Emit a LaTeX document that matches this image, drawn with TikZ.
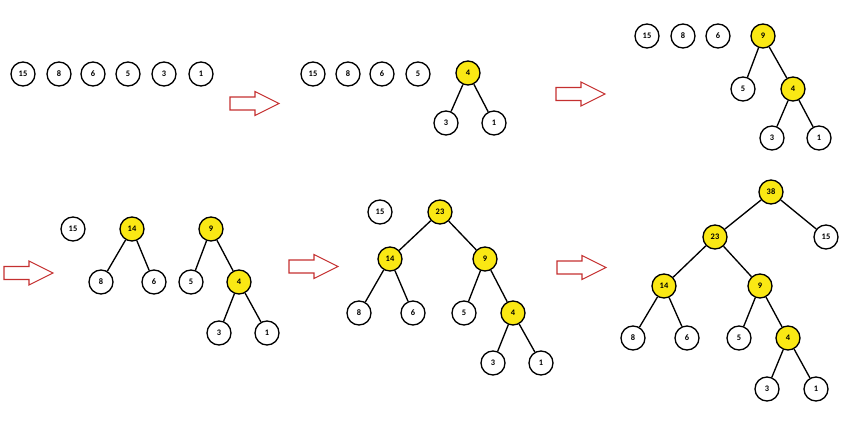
\documentclass[tikz,border=0pt]{standalone}
\usepackage{fontspec}
\setsansfont{Carlito}
\definecolor{nodeyellow}{RGB}{250,232,20}
\definecolor{arrowred}{RGB}{196,48,48}

\begin{document}
\begin{tikzpicture}[x=0.025cm,y=-0.025cm,line width=0.95pt,
  plain/.style={circle,draw,minimum size=0.6cm,inner sep=0pt,font=\sffamily\bfseries\fontsize{6}{7}\selectfont},
  merged/.style={plain,fill=nodeyellow},
  bigarrow/.style={draw=arrowred,line width=0.75pt}]
\useasboundingbox (0,0) rectangle (845,426);

% hollow arrows between the steps
\foreach \x/\y in {230/103.5, 556/94, 4/273, 289/266.5, 557/267.5}
  \draw[bigarrow] (\x,\y-6.5) -- ++(25,0) -- ++(0,-5.5) -- ++(24,12) -- ++(-24,12) -- ++(0,-5.5) -- ++(-25,0) -- cycle;

\begin{scope}
\node[plain](n15) at (23,74){15};
\node[plain](n8) at (59,74){8};
\node[plain](n6) at (93,74){6};
\node[plain](n5) at (128,74){5};
\node[plain](n3) at (164,74){3};
\node[plain](n1) at (201,74){1};
\end{scope}

\begin{scope}
\node[plain](n15) at (313,74){15};
\node[plain](n8) at (348,74){8};
\node[plain](n6) at (382,74){6};
\node[plain](n5) at (418,74){5};
\node[merged](n4) at (468,73){4};
\node[plain](n3) at (446,123){3};
\node[plain](n1) at (494,123){1};
\draw(n4)--(n3);
\draw(n4)--(n1);
\end{scope}

\begin{scope}
\node[plain](n15) at (647,36){15};
\node[plain](n8) at (683,36){8};
\node[plain](n6) at (718,36){6};
\node[merged](n9) at (763,36){9};
\node[plain](n5) at (743,89){5};
\node[merged](n4) at (793,89){4};
\node[plain](n3) at (772,138){3};
\node[plain](n1) at (819,138){1};
\draw(n9)--(n5);
\draw(n9)--(n4);
\draw(n4)--(n3);
\draw(n4)--(n1);
\end{scope}

\begin{scope}
\node[plain](n15) at (73,229){15};
\node[merged](n14) at (132,229){14};
\node[merged](n9) at (211,229){9};
\node[plain](n8) at (101,282){8};
\node[plain](n6) at (154,282){6};
\node[plain](n5) at (191,282){5};
\node[merged](n4) at (239,282){4};
\node[plain](n3) at (219,333){3};
\node[plain](n1) at (267,333){1};
\draw(n14)--(n8);
\draw(n14)--(n6);
\draw(n9)--(n5);
\draw(n9)--(n4);
\draw(n4)--(n3);
\draw(n4)--(n1);
\end{scope}

\begin{scope}
\node[plain](n15) at (380,212){15};
\node[merged](n23) at (440,212){23};
\node[merged](n14) at (390,259){14};
\node[merged](n9) at (485,259){9};
\node[plain](n8) at (359,313){8};
\node[plain](n6) at (413,313){6};
\node[plain](n5) at (464,313){5};
\node[merged](n4) at (513,313){4};
\node[plain](n3) at (493,363){3};
\node[plain](n1) at (541,363){1};
\draw(n23)--(n14);
\draw(n23)--(n9);
\draw(n14)--(n8);
\draw(n14)--(n6);
\draw(n9)--(n5);
\draw(n9)--(n4);
\draw(n4)--(n3);
\draw(n4)--(n1);
\end{scope}

\begin{scope}
\node[merged](n38) at (771,192){38};
\node[plain](n15) at (826,237){15};
\node[merged](n23) at (715,237){23};
\node[merged](n14) at (664,286){14};
\node[merged](n9) at (760,286){9};
\node[plain](n8) at (633,338){8};
\node[plain](n6) at (687,338){6};
\node[plain](n5) at (739,338){5};
\node[merged](n4) at (788,338){4};
\node[plain](n3) at (767,389){3};
\node[plain](n1) at (816,389){1};
\draw(n38)--(n23);
\draw(n38)--(n15);
\draw(n23)--(n14);
\draw(n23)--(n9);
\draw(n14)--(n8);
\draw(n14)--(n6);
\draw(n9)--(n5);
\draw(n9)--(n4);
\draw(n4)--(n3);
\draw(n4)--(n1);
\end{scope}
\end{tikzpicture}
\end{document}
